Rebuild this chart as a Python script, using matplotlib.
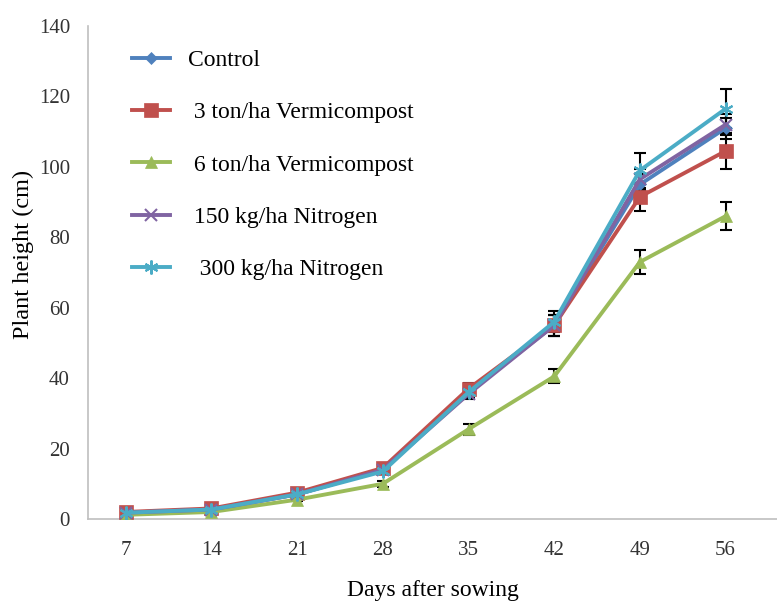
import matplotlib
matplotlib.use("Agg")
import matplotlib.pyplot as plt
import numpy as np

days = ["7", "14", "21", "28", "35", "42", "49", "56"]
series_names = ["Control", " 3 ton/ha Vermicompost", " 6 ton/ha Vermicompost",
                " 150 kg/ha Nitrogen", "  300 kg/ha Nitrogen"]
control = [1.8, 2.7, 7.0, 14.0, 36.0, 55.0, 95.0, 111.0]
vermi3 = [2.0, 3.0, 7.5, 14.5, 37.0, 55.0, 91.5, 104.5]
vermi6 = [1.2, 2.0, 5.5, 10.0, 25.5, 40.5, 73.0, 86.0]
nitro150 = [1.8, 2.7, 7.0, 14.0, 35.5, 55.0, 96.5, 112.0]
nitro300 = [1.8, 2.7, 7.0, 13.5, 36.0, 56.0, 99.0, 116.5]
err_control = [0.3, 0.3, 0.5, 0.8, 1.5, 3.0, 3.0, 3.0]
err_vermi3 = [0.3, 0.3, 0.5, 0.8, 1.5, 3.0, 4.0, 5.0]
err_vermi6 = [0.3, 0.3, 0.5, 0.8, 1.5, 2.0, 3.5, 4.0]
err_nitro150 = [0.3, 0.3, 0.5, 0.8, 1.5, 3.0, 3.0, 3.0]
err_nitro300 = [0.3, 0.3, 0.5, 0.8, 1.5, 3.0, 5.0, 5.5]

plt.rcParams['font.family'] = ['Liberation Serif', 'DejaVu Serif']

fig = plt.figure(figsize=(7.77, 6.01), dpi=100)
ax = fig.add_axes([0.1133, 0.1364, 0.8867, 0.8203])

x = np.arange(len(days))
colors = ["#4F81BD", "#C0504D", "#9BBB59", "#8064A2", "#4BACC6"]
markers = ["D", "s", "^", "x", (6, 2, 0)]
msizes = [6, 10, 9, 9, 10]
data = [control, vermi3, vermi6, nitro150, nitro300]
errs = [err_control, err_vermi3, err_vermi6, err_nitro150, err_nitro300]

for name, y, e, c, m, ms in zip(series_names, data, errs, colors, markers, msizes):
    ax.errorbar(x, y, yerr=e, fmt='none', ecolor='black', elinewidth=1.5,
                capsize=4, capthick=1.5, zorder=2)
    ax.plot(x, y, color=c, marker=m, markersize=ms, linewidth=2.8,
            markeredgewidth=1.5 if m in ("x",) or isinstance(m, tuple) else 0.5,
            markeredgecolor=c, label=name, zorder=3)

ax.set_xlim(-0.44, 7.6)
ax.set_ylim(0, 140)
ax.set_yticks(np.arange(0, 141, 20))
ax.set_xticks(x)
ax.set_xticklabels(days)
ax.tick_params(axis='both', length=0, labelsize=15, colors='#333333')
ax.tick_params(axis='x', pad=16)
ax.tick_params(axis='y', pad=13)
for s in ["top", "right"]:
    ax.spines[s].set_visible(False)
for s in ["left", "bottom"]:
    ax.spines[s].set_color("#BFBFBF")
    ax.spines[s].set_linewidth(1.2)

ax.set_xlabel("Days after sowing", fontsize=17, labelpad=14)
ax.set_ylabel("Plant height (cm)", fontsize=17.5)
ax.yaxis.set_label_coords(-0.079, 0.537)

leg = ax.legend(loc="upper left", bbox_to_anchor=(0.033, 0.995), frameon=False,
                fontsize=17, labelspacing=1.3, handlelength=1.6, handletextpad=0.75)

fig.savefig("out.png", dpi=100)
